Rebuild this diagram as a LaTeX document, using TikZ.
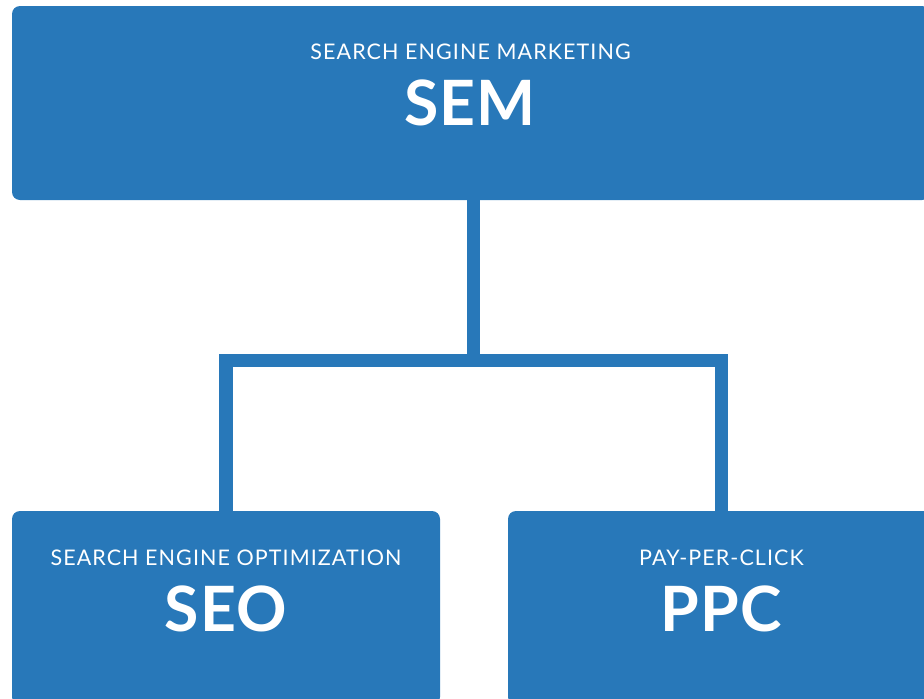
\documentclass[tikz,border=0pt]{standalone}
\usepackage{fontspec}
\setmainfont{Lato}
\newfontfamily\smallfont[LetterSpace=5]{Lato}
\newfontfamily\bigfont[LetterSpace=2]{Lato Bold}
\definecolor{semblue}{RGB}{40,120,185}
\begin{document}
\begin{tikzpicture}[x=1pt,y=-1pt,
  box/.style={fill=semblue,rounded corners=8pt},
  small/.style={text=white,anchor=base,inner sep=0pt,font=\smallfont\fontsize{21.5}{24}\selectfont},
  big/.style={text=white,anchor=base,inner sep=0pt,font=\bigfont\fontsize{62.5}{68}\selectfont},
  link/.style={draw=semblue,line width=13.5pt,line join=miter}]
\useasboundingbox (0,0) rectangle (924,699);
\clip (0,0) rectangle (924,699);
\node[box,minimum width=918pt,minimum height=194pt,inner sep=0pt] (sem) at (471,103) {};
\node[box,minimum width=428pt,minimum height=194pt,inner sep=0pt] (seo) at (226,608) {};
\node[box,minimum width=427pt,minimum height=194pt,inner sep=0pt] (ppc) at (721.5,608) {};
\node[small] (semsub) at (470.5,59) {SEARCH ENGINE MARKETING};
\node[big] (semtxt) at (470,125) {SEM};
\node[small] (seosub) at (226,565) {SEARCH ENGINE OPTIMIZATION};
\node[big] (seotxt) at (226,631) {SEO};
\node[small] (ppcsub) at (721.5,565) {PAY-PER-CLICK};
\node[big] (ppctxt) at (721.5,631) {PPC};
\coordinate (j) at (473.5,360.5);
\draw[link] (j |- sem.south) -- (j);
\draw[link] (seo.north) |- (j) -| (ppc.north);
\end{tikzpicture}
\end{document}
